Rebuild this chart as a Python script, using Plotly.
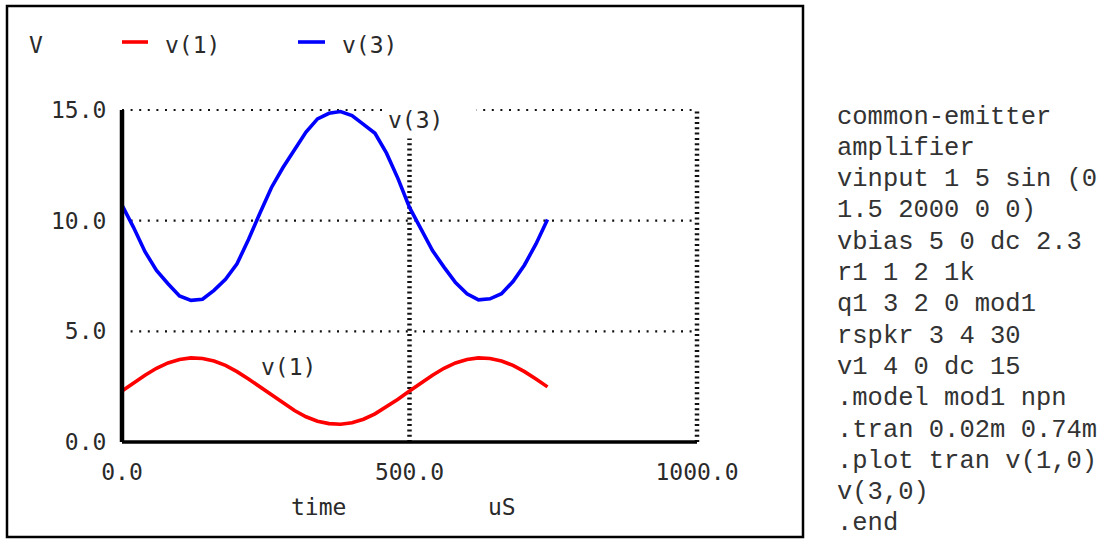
import plotly.graph_objects as go

# ---------------- data ----------------
TIME_US = [0, 20, 40, 60, 80, 100, 120, 140, 160, 180, 200, 220, 240, 260, 280,
           300, 320, 340, 360, 380, 400, 420, 440, 460, 480, 500, 520, 540, 560,
           580, 600, 620, 640, 660, 680, 700, 720, 740]
V1 = [2.30, 2.67, 3.02, 3.33, 3.57, 3.73, 3.80, 3.77, 3.66, 3.46, 3.18, 2.85,
      2.49, 2.11, 1.75, 1.42, 1.14, 0.94, 0.83, 0.80, 0.87, 1.03, 1.27, 1.58,
      1.93, 2.30, 2.67, 3.02, 3.33, 3.57, 3.73, 3.80, 3.77, 3.66, 3.46, 3.18,
      2.85, 2.49]
V3 = [10.70, 9.70, 8.60, 7.75, 7.15, 6.60, 6.40, 6.45, 6.85, 7.35, 8.05, 9.15,
      10.35, 11.50, 12.40, 13.20, 14.00, 14.60, 14.85, 14.93, 14.75, 14.35,
      13.95, 13.05, 11.90, 10.60, 9.60, 8.65, 7.90, 7.20, 6.70, 6.42, 6.47,
      6.70, 7.25, 8.00, 8.95, 10.05]

SERIES_NAMES = ["v(1)", "v(3)"]
SERIES_COLORS = ["#ff0000", "#0000ff"]

X_TICKS = [0, 500, 1000]
X_TICK_LABELS = ["0.0", "500.0", "1000.0"]
Y_TICKS = [0, 5, 10, 15]
Y_TICK_LABELS = ["0.0", "5.0", "10.0", "15.0"]

X_TITLE = "time"
X_UNIT = "uS"
Y_UNIT = "V"

# curve label anchors (data coordinates)
LABEL_V3 = (452, 14.55)   # left edge of the white label box
LABEL_V1 = (289, 3.38)

NETLIST = [
    "common-emitter",
    "amplifier",
    "vinput 1 5 sin (0",
    "1.5 2000 0 0)",
    "vbias 5 0 dc 2.3",
    "r1 1 2 1k",
    "q1 3 2 0 mod1",
    "rspkr 3 4 30",
    "v1 4 0 dc 15",
    ".model mod1 npn",
    ".tran 0.02m 0.74m",
    ".plot tran v(1,0)",
    "v(3,0)",
    ".end",
]

# ---------------- layout helpers ----------------
W, H = 1117, 540


def px(x):
    return x / W


def py(y):
    return 1 - y / H


# plot box in pixels: x 0 -> 122, 1000 -> 697 ; y 0 -> 442, 15 -> 110
PLOT_L, PLOT_R, PLOT_B, PLOT_T = 122, 697, 442, 110
PAD_X, PAD_Y = 10, 0.3  # small range padding so edge lines are not clipped
sx = (PLOT_R - PLOT_L) / (X_TICKS[-1] - X_TICKS[0])
sy = (PLOT_B - PLOT_T) / (Y_TICKS[-1] - Y_TICKS[0])

MONO = "DejaVu Sans Mono"
TXT = "#2a2a2a"
TICK_FONT = dict(family=MONO, size=23, color=TXT)

fig = go.Figure()
for name, ys, col in zip(SERIES_NAMES, [V1, V3], SERIES_COLORS):
    fig.add_trace(go.Scatter(x=TIME_US, y=ys, mode="lines", name=name,
                             line=dict(color=col, width=3.6),
                             showlegend=False, hoverinfo="skip"))

shapes = []
# dotted horizontal gridlines
for yv in Y_TICKS[1:]:
    shapes.append(dict(type="line", xref="x", yref="y", x0=X_TICKS[0], x1=X_TICKS[-1],
                       y0=yv, y1=yv, layer="below",
                       line=dict(color="#111", width=2.2, dash="2px,6.6px")))
# dotted vertical gridlines
for xv in X_TICKS[1:]:
    shapes.append(dict(type="line", xref="x", yref="y", x0=xv, x1=xv,
                       y0=Y_TICKS[0], y1=Y_TICKS[-1], layer="below",
                       line=dict(color="#111", width=4.5, dash="2px,3.3px")))
# solid axis lines
shapes.append(dict(type="line", xref="x", yref="y", x0=X_TICKS[0], x1=X_TICKS[0],
                   y0=Y_TICKS[0], y1=Y_TICKS[-1], line=dict(color="black", width=4.5)))
shapes.append(dict(type="line", xref="x", yref="y", x0=X_TICKS[0], x1=X_TICKS[-1],
                   y0=Y_TICKS[0], y1=Y_TICKS[0], line=dict(color="black", width=3.5)))
# outer frame
shapes.append(dict(type="rect", xref="paper", yref="paper",
                   x0=px(7), x1=px(803), y0=py(537), y1=py(6),
                   line=dict(color="black", width=2.5), layer="below"))
# legend swatches
for xs, col in zip([(122, 148), (298, 325)], SERIES_COLORS):
    shapes.append(dict(type="line", xref="paper", yref="paper",
                       x0=px(xs[0]), x1=px(xs[1]), y0=py(42), y1=py(42),
                       line=dict(color=col, width=3.6)))

annotations = []
# legend texts
annotations.append(dict(xref="paper", yref="paper", x=px(36), y=py(45), text=Y_UNIT,
                        showarrow=False, xanchor="center", yanchor="middle", font=TICK_FONT))
for xl, name in zip([163, 340], SERIES_NAMES):
    annotations.append(dict(xref="paper", yref="paper", x=px(xl), y=py(45), text=name,
                            showarrow=False, xanchor="left", yanchor="middle", font=TICK_FONT))
# axis titles
annotations.append(dict(xref="paper", yref="paper", x=px(318), y=py(507), text=X_TITLE,
                        showarrow=False, xanchor="center", yanchor="middle", font=TICK_FONT))
annotations.append(dict(xref="paper", yref="paper", x=px(502), y=py(507), text=X_UNIT,
                        showarrow=False, xanchor="center", yanchor="middle", font=TICK_FONT))
# curve labels
annotations.append(dict(xref="x", yref="y", x=LABEL_V3[0], y=LABEL_V3[1],
                        text=SERIES_NAMES[1] + "\u00a0\u00a0", showarrow=False,
                        xanchor="left", yanchor="middle", font=TICK_FONT,
                        bgcolor="white", borderpad=5))
annotations.append(dict(xref="x", yref="y", x=LABEL_V1[0], y=LABEL_V1[1],
                        text=SERIES_NAMES[0], showarrow=False,
                        xanchor="center", yanchor="middle", font=TICK_FONT))
# netlist text
for i, line in enumerate(NETLIST):
    annotations.append(dict(xref="paper", yref="paper", x=px(835), y=py(117 + i * 31.3),
                            text=line, showarrow=False, xanchor="left", yanchor="middle",
                            font=dict(family="Liberation Mono", size=25.5, color="#333")))

fig.update_layout(
    width=W, height=H,
    margin=dict(l=0, r=0, t=0, b=0),
    paper_bgcolor="white", plot_bgcolor="white",
    shapes=shapes, annotations=annotations,
    xaxis=dict(domain=[px(PLOT_L - PAD_X * sx), px(PLOT_R + PAD_X * sx)],
               range=[X_TICKS[0] - PAD_X, X_TICKS[-1] + PAD_X],
               tickvals=X_TICKS, ticktext=X_TICK_LABELS, showgrid=False,
               zeroline=False, showline=False, ticks="outside", ticklen=9 - PAD_Y * sy,
               tickcolor="rgba(0,0,0,0)", tickfont=TICK_FONT, automargin=False,
               fixedrange=True),
    yaxis=dict(domain=[py(PLOT_B + PAD_Y * sy), py(PLOT_T - PAD_Y * sy)],
               range=[Y_TICKS[0] - PAD_Y, Y_TICKS[-1] + PAD_Y],
               tickvals=Y_TICKS, ticktext=Y_TICK_LABELS, showgrid=False,
               zeroline=False, showline=False, ticks="outside", ticklen=10 - PAD_X * sx,
               tickcolor="rgba(0,0,0,0)", tickfont=TICK_FONT, automargin=False,
               fixedrange=True),
)

fig.write_html("out.html", config={"displayModeBar": False},
               post_script="document.body.style.margin='0';document.body.style.overflow='hidden';")
